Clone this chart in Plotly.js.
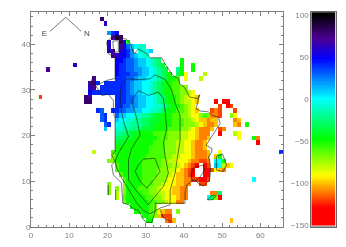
<!DOCTYPE html>
<html><head><meta charset="utf-8">
<script src="https://cdn.plot.ly/plotly-3.0.1.min.js"></script>
<style>html,body{margin:0;padding:0;background:#fff}#c{width:346px;height:247px;filter:blur(0.35px)}</style>
</head><body><div id="c"></div>
<script>
// value letters: a=-150, b=-140 ... p=0 ... z=100 (10 per letter)
// each entry: [row j, first column i, letters]
const cells = [
[45,18,"x"],[44,19,"v"],[42,20,"rtu"],[41,21,"wyx"],
[40,20,"v"],[40,23,"xvl"],
[39,20,"v"],[39,23,"wusqpoo"],
[38,20,"vw"],[38,23,"vutr"],[38,28,"oopq"],
[37,21,"wvuutrqpoo"],
[36,22,"uutssrqqponm"],[36,39,"k"],
[35,11,"v"],[35,22,"uttssrqqponml"],[35,39,"k"],[35,42,"k"],
[34,4,"w"],[34,22,"uttssrrqqponml"],[34,38,"nk"],[34,42,"k"],
[33,22,"utttssrqqponmlk"],[33,38,"mkg"],[33,45,"h"],
[32,16,"w"],[32,22,"tttssrqqpponmlkkj"],[32,40,"g"],[32,44,"h"],
[31,15,"wxt"],[31,19,"ttttttsrqqpponmlkkjj"],
[30,15,"vw"],[30,18,"tttttttsrqqpponmlkkjjii"],
[29,15,"utttttttttsrqqpponmlkkjjiihg"],
[28,2,"d"],[28,14,"xw"],[28,22,"tttssrqqpponmlkkjihgg"],[28,43,"f"],
[27,14,"xx"],[27,22,"tttssrqqpponmlkkjihhgf"],[27,48,"c"],[27,50,"cc"],
[26,22,"ttssrrqqppoonmlkkjihg"],[26,49,"d"],[26,51,"cd"],
[25,17,"ts"],[25,21,"ttssrrqqppoonmlkkjjihgf"],[25,47,"ded"],[25,53,"d"],
[24,18,"st"],[24,22,"sqqppoonnmllkkkjjiihggijieed"],[24,52,"ig"],
[23,18,"st"],[23,22,"qppoonnmmlllkkkjjjiihgffeff"],[23,53,"ef"],
[22,19,"st"],[22,22,"pooonnnmmllkkkkjjjiiihgfeef"],[22,53,"fe"],[22,56,"k"],
[21,19,"q"],[21,22,"oonnnmmlllkkkkjjjiihgfeeef"],[21,49,"de"],
[20,22,"nnmmllkkkkjjjjiiihhggfeee"],[20,49,"c"],[20,53,"hg"],
[19,22,"mmlllkkkkkkjjjiiihhggfeef"],[19,54,"g"],[19,58,"ke"],
[18,22,"lllkkkkkkkjjjiiihhggfeef"],[18,59,"c"],
[17,22,"kkkkkkkkkjjjjiiihhggfeef"],
[16,16,"h"],[16,21,"jkkkkkkkkkjjjjiiihhggfeeef"],[16,49,"g"],[16,65,"t"],
[15,21,"ikkkkkkkkjjjjjiihhgggfeeef"],[15,48,"fk"],
[14,20,"i"],[14,21,"ikkkkkkkjjjjjiihhgggfeedde"],[14,48,"ppk"],
[13,22,"jkkkkkkjjjjjiiihhgfedc"],[13,45,"cd"],[13,48,"qphfg"],
[12,22,"jkkkkkkjjjjiiihhgfedc"],[12,45,"bc"],[12,47,"dgfe"],
[11,23,"jkkkkkjjjjiiihgffedc"],[11,45,"cc"],
[10,24,"jkkkkjjjiiihggffeeddccd"],[10,58,"p"],
[9,20,"i"],[9,24,"ikkkkjjjiihgggffee"],[9,44,"dd"],
[8,20,"i"],[8,22,"i"],[8,24,"ikkkjjjiihgggffee"],
[7,20,"i"],[7,22,"h"],[7,24,"ikkkkjjiihhggffee"],[7,47,"eem"],
[6,22,"h"],[6,24,"jkkkkkjjiihgggfee"],[6,46,"pmi"],[6,49,"c"],
[5,24,"ikkkkkkjjiihggee"],
[4,26,"kkkkkji"],
[3,27,"kkkkjigfee"],[3,38,"i"],
[2,29,"kkji"],[2,33,"fddd"],
[1,30,"kk"],[1,35,"edf"],[1,52,"f"]
];
// contour lines, data units
const outerX=[25.05,26.1,26.4,27.05,28.1,30.3,31.15,34.2,35.1,35.95,37.1,38.5,38.9,40.2,41.5,43.7,44.15,43.5,43.2,44.2,46.4,47.3,49,49.5,47.3,45.8,47.3,47.3,46.4,47,46.9,46.7,45.1,43.8,43.2,42.1,40.75,40.3,40.3,32.5,32.45,31.6,30.3,29.4,28.1,26.8,25.5,24,23.7,22,21.55,21.1,22,21.1,22,22,22,21.55,21.55,20.25,18.5,17.2,16.75,17.6,19.8,22,22,20.25,19.8,21.1,22.85,25.05];
const outerY=[41.05,40.1,39,37.9,39,37.9,37.05,37.05,35.7,34.65,33.2,32.5,31.4,30.5,28.45,28.1,29,27,25.9,25.4,25.2,24.45,24.1,22.65,19.7,17.9,17.2,16.45,15.35,13.5,11.7,10.25,9,9.5,10.1,10.1,9.2,7.7,5.2,5.2,3.4,1,1,1.6,3.65,3.95,4.9,5.25,9.6,11.05,11.4,13.6,14.35,15.8,16.5,21.25,23.75,25.2,27.7,29.05,28.8,30.6,30.5,31.2,32.1,32.5,37.2,37.9,40.5,41.6,41.7,41.05];
const ringAX=[23.3,23.75,24.35,25.5,22.85,22,22.45,23.75,25.05,27.65,29.4,31.15,33.75,36.4,36.4,37.7,38.2,39,39,37.7,36.85,35.1,32.45,31.15,28.55,25.05,23.75,23.3];
const ringAY=[28.45,24.8,22.7,19.8,16.15,14.35,12.9,10.7,8.9,5.25,3.65,2.9,4.15,4.85,8.1,11.8,14.65,18.95,24.45,27.05,29.9,32.3,33.3,32.45,32.25,32.45,31.4,28.45];
const ringBX=[26.35,27.65,28.55,26.35,25.5,25.5,27.65,30.7,32.45,34.65,35.95,35.1,34.65,35.5,35.1,34.65,33.3,30.7,28.1,26.35];
const ringBY=[27.75,23.75,20.1,17.25,14.7,10.3,7.8,4.85,6.7,8.9,11.8,15.45,18.35,21.55,25.2,28.1,29.55,28.8,29.9,27.75];
const ringCX=[29.4,32.45,33.05,33.75,32.45,30.3,28.55,27.25,28.1,29.4];
const ringCY=[14.85,15.05,13.6,12.15,10.7,8.5,10,12.15,13.6,14.85];
const islandX=[48.5,50.1,51.15,50.25,48.5,48.5];
const islandY=[15.45,16,13.6,12.15,12.5,15.45];
const holeAX=[42.3,42.95,45.1,45.4,44.25,43.4,42.1,41.8,42.3];
const holeAY=[12.6,13.15,13.55,12.45,11,10.25,10.25,11.35,12.6];
const holeBX=[22.85,22.85,22,21.55,21.4,22.85];
const holeBY=[40.8,38.3,38.3,39,40.7,40.8];
const lowX=[46.15,47.2,48.5,47.45,46.15];
const lowY=[5.95,6.85,6.85,5.95,5.95];
const stripAX=[20.25,20.25], stripAY=[9.2,7];
const stripBX=[22.15,22.15], stripBY=[8.1,5.9];
const cornerX=[33.75,34.65,37.1], cornerY=[3.8,2,1];
const wingX=[15.9,15.6,16.3], wingY=[29.75,31.7,33];
const compassX=[5,9.1,13.1], compassY=[42.85,45.9,42.85];
const compassLabels=["E","N"], compassLabelX=[3.5,14.6], compassLabelY=[42.3,42.3];
const xTicks=[0,10,20,30,40,50,60];
const yTicks=[0,10,20,30,40];
const barTicks=[-150,-100,-50,0,50,100];
const nCols=66, nRows=47, zMin=-150, zMax=100;

const scale=[[0,'#ff0000'],[0.08,'#ff0000'],[0.236,'#ffff00'],[0.408,'#00ff00'],[0.6,'#00ffff'],[0.792,'#0000ff'],[0.888,'#4a0090'],[1,'#000000']];
const z=[];
for(let j=0;j<nRows;j++){z.push(new Array(nCols).fill(null));}
cells.forEach(([j,i,s])=>{[...s].forEach((ch,k)=>{z[j][i+k]=-150+10*(ch.charCodeAt(0)-97);});});

const barY=[],barZ=[];
for(let v=zMin;v<=zMax+4;v+=2){barY.push(v);barZ.push([v]);}

const traces=[{type:'heatmap',z:z,x0:0.5,dx:1,y0:0.5,dy:1,zmin:zMin,zmax:zMax,colorscale:scale,showscale:false,hoverongaps:false,xaxis:'x',yaxis:'y'},
{type:'heatmap',z:barZ,y:barY,x:[0],zmin:zMin,zmax:zMax,colorscale:scale,showscale:false,xaxis:'x2',yaxis:'y2'}];
[[outerX,outerY],[ringAX,ringAY],[ringBX,ringBY],[ringCX,ringCY],[islandX,islandY],[holeAX,holeAY],[holeBX,holeBY],[lowX,lowY],[stripAX,stripAY],[stripBX,stripBY],[cornerX,cornerY],[wingX,wingY]].forEach(([x,y])=>{
 traces.push({type:'scatter',mode:'lines',x:x,y:y,line:{color:'rgba(15,30,15,0.85)',width:0.7},hoverinfo:'skip',showlegend:false,xaxis:'x',yaxis:'y'});
});
traces.push({type:'scatter',mode:'lines',x:compassX,y:compassY,line:{color:'#555',width:0.8},hoverinfo:'skip',showlegend:false,xaxis:'x',yaxis:'y'});
traces.push({type:'scatter',mode:'text',x:compassLabelX,y:compassLabelY,text:compassLabels,textfont:{family:'Liberation Sans',size:8,color:'#444'},hoverinfo:'skip',showlegend:false,xaxis:'x',yaxis:'y'});

const W=346,H=247;
const tickStyle={showgrid:false,zeroline:false,showline:true,linecolor:'#808080',linewidth:1,mirror:'ticks',ticks:'inside',ticklen:4,tickcolor:'#808080',tickwidth:1,ticklabelstandoff:-2,tickfont:{family:'Liberation Sans',size:8,color:'#808080'}};
const layout={width:W,height:H,margin:{l:0,r:0,t:0,b:0},paper_bgcolor:'#fff',plot_bgcolor:'#fff',showlegend:false,
 xaxis:Object.assign({},tickStyle,{domain:[31/W,283.3/W],range:[0,nCols],tickmode:'array',tickvals:xTicks,ticklabelstandoff:0,minor:{dtick:2,ticks:'inside',ticklen:2,tickcolor:'#808080',tickwidth:1}}),
 yaxis:Object.assign({},tickStyle,{domain:[(H-227)/H,(H-12.3)/H],range:[0,nRows],tickmode:'array',tickvals:yTicks,minor:{dtick:2,ticks:'inside',ticklen:2,tickcolor:'#808080',tickwidth:1}}),
 xaxis2:{domain:[311.3/W,335.7/W],anchor:'y2',showticklabels:false,ticks:'',showgrid:false,zeroline:false,showline:true,linecolor:'#666',mirror:true},
 yaxis2:{domain:[(H-227)/H,(H-12.3)/H],anchor:'x2',range:[-152.6,103],tickmode:'array',tickvals:barTicks,ticks:'',showgrid:false,zeroline:false,showline:true,linecolor:'#666',mirror:true,tickfont:{family:'Liberation Sans',size:8,color:'#808080'}},
 shapes:[{type:'rect',xref:'x2 domain',yref:'y2',x0:0,x1:1,y0:-152.6,y1:-151,fillcolor:'#aaa',line:{width:0}}]
};
Plotly.newPlot('c',traces,layout,{displayModeBar:false,staticPlot:true});
</script></body></html>
